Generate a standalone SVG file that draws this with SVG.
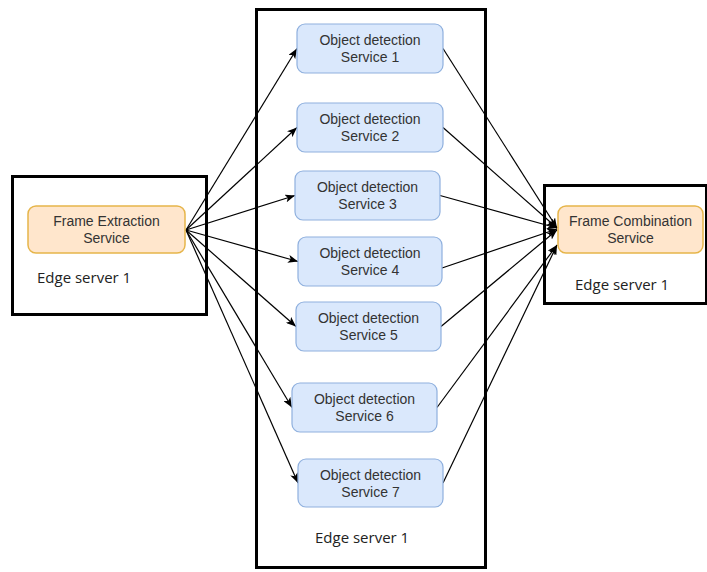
<svg xmlns="http://www.w3.org/2000/svg" width="707" height="572" viewBox="0 0 707 572">
  <style>
    .server { fill: #ffffff; stroke: #000000; stroke-width: 3; }
    .svc { fill: #dae8fc; stroke: #8fb0de; stroke-width: 1.2; }
    .frame { fill: #ffe6cc; stroke: #e6b54a; stroke-width: 1.5; }
    .label { font-family: "Liberation Sans", Arial, sans-serif; font-size: 14px; fill: #333333; text-anchor: middle; }
    .server-label { font-family: "Open Sans", "Liberation Sans", sans-serif; font-size: 15px; fill: #222222; }
    .edge { fill: none; stroke: #000000; stroke-width: 1.2; marker-end: url(#arrow); }
  </style>
  <defs>
    <marker id="arrow" viewBox="0 0 10 8" refX="10" refY="4" markerWidth="10" markerHeight="8" markerUnits="userSpaceOnUse" orient="auto">
      <path d="M0,0 L10,4 L0,8 L2.5,4 z" fill="#000000"/>
    </marker>
  </defs>
  <rect width="707" height="572" fill="#ffffff"/>

  <!-- server containers -->
  <g id="server-left">
    <rect class="server" x="12.5" y="176.5" width="194" height="138"/>
    <text class="server-label" x="37" y="283">Edge server 1</text>
  </g>
  <g id="server-middle">
    <rect class="server" x="256.5" y="9.5" width="229" height="558"/>
    <text class="server-label" x="315" y="543">Edge server 1</text>
  </g>
  <g id="server-right">
    <rect class="server" x="544.5" y="185.5" width="162" height="118"/>
    <text class="server-label" x="575" y="290">Edge server 1</text>
  </g>

  <!-- connectors -->
  <g id="connectors">
    <path class="edge" d="M186,230 L297,48.5"/>
    <path class="edge" d="M186,230 L297,127.5"/>
    <path class="edge" d="M186,230 L295,195.5"/>
    <path class="edge" d="M186,230 L298,261.5"/>
    <path class="edge" d="M186,230 L296,326.5"/>
    <path class="edge" d="M186,230 L292,407.5"/>
    <path class="edge" d="M186,230 L298,483"/>
    <path class="edge" d="M443,48.5 L557,228"/>
    <path class="edge" d="M443,127.5 L557,228"/>
    <path class="edge" d="M440,195.5 L557,228"/>
    <path class="edge" d="M442,268 L557,229"/>
    <path class="edge" d="M441,326.5 L557,230"/>
    <path class="edge" d="M437,407.5 L557,245"/>
    <path class="edge" d="M443,483 L557,245"/>
  </g>

  <!-- services -->
  <g id="frame-extraction">
    <rect class="frame" x="28" y="206" width="157" height="47" rx="8"/>
    <text class="label" x="106.5" y="226">Frame Extraction</text>
    <text class="label" x="106.5" y="243">Service</text>
  </g>
  <g id="frame-combination">
    <rect class="frame" x="558" y="206" width="145" height="47" rx="8"/>
    <text class="label" x="630.5" y="226">Frame Combination</text>
    <text class="label" x="630.5" y="243">Service</text>
  </g>
  <g id="od-1">
    <rect class="svc" x="297" y="24" width="146" height="49" rx="8"/>
    <text class="label" x="370" y="44.5">Object detection</text>
    <text class="label" x="370" y="61.5">Service 1</text>
  </g>
  <g id="od-2">
    <rect class="svc" x="297" y="103" width="146" height="49" rx="8"/>
    <text class="label" x="370" y="123.5">Object detection</text>
    <text class="label" x="370" y="140.5">Service 2</text>
  </g>
  <g id="od-3">
    <rect class="svc" x="295" y="171" width="145" height="49" rx="8"/>
    <text class="label" x="367.5" y="191.5">Object detection</text>
    <text class="label" x="367.5" y="208.5">Service 3</text>
  </g>
  <g id="od-4">
    <rect class="svc" x="298" y="237" width="144" height="49" rx="8"/>
    <text class="label" x="370" y="257.5">Object detection</text>
    <text class="label" x="370" y="274.5">Service 4</text>
  </g>
  <g id="od-5">
    <rect class="svc" x="296" y="302" width="145" height="49" rx="8"/>
    <text class="label" x="368.5" y="322.5">Object detection</text>
    <text class="label" x="368.5" y="339.5">Service 5</text>
  </g>
  <g id="od-6">
    <rect class="svc" x="292" y="383" width="145" height="49" rx="8"/>
    <text class="label" x="364.5" y="403.5">Object detection</text>
    <text class="label" x="364.5" y="420.5">Service 6</text>
  </g>
  <g id="od-7">
    <rect class="svc" x="298" y="459" width="145" height="48" rx="8"/>
    <text class="label" x="370.5" y="479.5">Object detection</text>
    <text class="label" x="370.5" y="496.5">Service 7</text>
  </g>
</svg>
